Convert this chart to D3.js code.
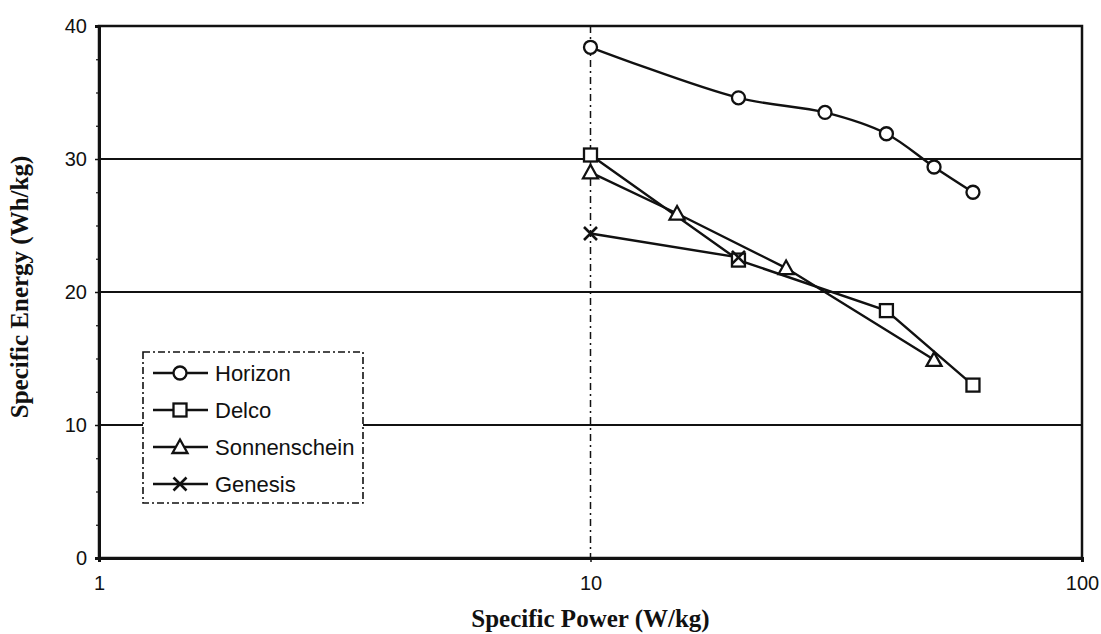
<!DOCTYPE html>
<html>
<head>
<meta charset="utf-8">
<script src="https://cdn.jsdelivr.net/npm/d3@7"></script>
<style>
  html, body { margin: 0; padding: 0; background: #fff; }
  svg { display: block; }
</style>
</head>
<body>
<svg id="chart" width="1101" height="634"></svg>
<script>
// ---- data ----
const seriesNames = ["Horizon", "Delco", "Sonnenschein", "Genesis"];
const horizonPower = [10, 20, 30, 40, 50, 60];
const horizonEnergy = [38.4, 34.6, 33.5, 31.9, 29.4, 27.5];
const delcoPower = [10, 20, 40, 60];
const delcoEnergy = [30.3, 22.4, 18.6, 13.0];
const sonnPower = [10, 15, 25, 50];
const sonnEnergy = [29.0, 25.9, 21.8, 14.9];
const genesisPower = [10, 20];
const genesisEnergy = [24.4, 22.6];
const yTicks = [0, 10, 20, 30, 40];
const yMinorTicks = [2.5, 5, 7.5, 12.5, 15, 17.5, 22.5, 25, 27.5, 32.5, 35, 37.5];
const xTicks = [1, 10, 100];
const xTitle = "Specific Power (W/kg)";
const yTitle = "Specific Energy (Wh/kg)";

(function () {
const series = [
  { name: seriesNames[0], xs: horizonPower, ys: horizonEnergy, marker: "circle", smooth: true },
  { name: seriesNames[1], xs: delcoPower, ys: delcoEnergy, marker: "square", smooth: false },
  { name: seriesNames[2], xs: sonnPower, ys: sonnEnergy, marker: "triangle", smooth: false },
  { name: seriesNames[3], xs: genesisPower, ys: genesisEnergy, marker: "cross", smooth: false }
];

// ---- layout ----
const pL = 99, pR = 1082, pT = 26, pB = 558;
const svg = d3.select("#chart");
const x = d3.scaleLog().domain([1, 100]).range([pL, pR]);
const y = d3.scaleLinear().domain([0, 40]).range([pB, pT]);

const ink = "#111";

// horizontal gridlines
svg.append("g").selectAll("line").data(yTicks.filter(d => d > 0 && d < 40)).join("line")
  .attr("x1", pL).attr("x2", pR)
  .attr("y1", d => y(d)).attr("y2", d => y(d))
  .attr("stroke", ink).attr("stroke-width", 2);

// vertical gridlines (dash-dot)
svg.append("g").selectAll("line").data(xTicks.filter(d => d > 1 && d < 100)).join("line")
  .attr("x1", d => x(d)).attr("x2", d => x(d))
  .attr("y1", pT).attr("y2", pB)
  .attr("stroke", ink).attr("stroke-width", 1.5)
  .attr("stroke-dasharray", "7,4,2,4");

// frame
svg.append("rect").attr("x", pL).attr("y", pT)
  .attr("width", pR - pL).attr("height", pB - pT)
  .attr("fill", "none").attr("stroke", ink).attr("stroke-width", 2.5);

// minor y ticks
const gym = svg.append("g").attr("transform", `translate(${pL},0)`)
  .call(d3.axisLeft(y).tickValues(yMinorTicks).tickSize(3).tickFormat(""));
gym.select(".domain").remove();
gym.selectAll(".tick line").attr("stroke", ink).attr("stroke-width", 1.2);

// axes
const yAxis = d3.axisLeft(y).tickValues(yTicks).tickSize(4).tickPadding(8).tickFormat(d3.format("d"));
const gy = svg.append("g").attr("transform", `translate(${pL},0)`).call(yAxis);
const xAxis = d3.axisBottom(x).tickValues(xTicks).tickSize(4).tickPadding(14).tickFormat(d3.format("d"));
const gx = svg.append("g").attr("transform", `translate(0,${pB})`).call(xAxis);
[gx, gy].forEach(g => {
  g.select(".domain").attr("stroke", ink).attr("stroke-width", 3);
  g.selectAll(".tick line").attr("stroke", ink).attr("stroke-width", 1.5);
  g.selectAll(".tick text").attr("fill", ink)
    .style("font-family", "Arial, 'Liberation Sans', sans-serif")
    .style("font-size", "20px");
});

// axis titles
svg.append("text").attr("x", (pL + pR) / 2).attr("y", 627)
  .attr("text-anchor", "middle")
  .style("font-family", "'Times New Roman', 'Liberation Serif', serif")
  .style("font-weight", "bold").style("font-size", "25px").attr("fill", ink)
  .text(xTitle);
svg.append("text")
  .attr("transform", `translate(28,287) rotate(-90)`)
  .attr("text-anchor", "middle")
  .style("font-family", "'Times New Roman', 'Liberation Serif', serif")
  .style("font-weight", "bold").style("font-size", "25px").attr("fill", ink)
  .text(yTitle);

// markers
function drawMarker(g, type, cx, cy) {
  const sw = 2.3;
  if (type === "circle") {
    g.append("circle").attr("cx", cx).attr("cy", cy).attr("r", 6.5)
      .attr("fill", "#fff").attr("stroke", ink).attr("stroke-width", sw);
  } else if (type === "square") {
    g.append("rect").attr("x", cx - 6.5).attr("y", cy - 6.5).attr("width", 13).attr("height", 13)
      .attr("fill", "#fff").attr("stroke", ink).attr("stroke-width", sw);
  } else if (type === "triangle") {
    const s = 7.5;
    g.append("path").attr("d", `M${cx},${cy - s}L${cx + s},${cy + s * 0.8}L${cx - s},${cy + s * 0.8}Z`)
      .attr("fill", "#fff").attr("stroke", ink).attr("stroke-width", sw);
  } else if (type === "cross") {
    const s = 6.5;
    g.append("path").attr("d", `M${cx - s},${cy - s}L${cx + s},${cy + s}M${cx - s},${cy + s}L${cx + s},${cy - s}`)
      .attr("fill", "none").attr("stroke", ink).attr("stroke-width", 2.6);
  }
}

// series lines + markers
series.forEach(s => {
  const pts = s.xs.map((v, i) => [v, s.ys[i]]);
  const line = d3.line().x(d => x(d[0])).y(d => y(d[1]))
    .curve(s.smooth ? d3.curveCatmullRom.alpha(0.5) : d3.curveLinear);
  svg.append("path").datum(pts).attr("d", line)
    .attr("fill", "none").attr("stroke", ink).attr("stroke-width", 2.4);
});
series.forEach(s => {
  const g = svg.append("g");
  s.xs.forEach((v, i) => drawMarker(g, s.marker, x(v), y(s.ys[i])));
});

// legend
const lg = svg.append("g");
const lx = 143, ly = 352, lw = 220, lh = 151;
lg.append("rect").attr("x", lx).attr("y", ly).attr("width", lw).attr("height", lh)
  .attr("fill", "#fff").attr("stroke", ink).attr("stroke-width", 1.6)
  .attr("stroke-dasharray", "7,3,2,3");
series.forEach((s, i) => {
  const cy = ly + 21 + i * 37;
  lg.append("line").attr("x1", lx + 10).attr("x2", lx + 65).attr("y1", cy).attr("y2", cy)
    .attr("stroke", ink).attr("stroke-width", 2.4);
  drawMarker(lg, s.marker, lx + 37, cy);
  lg.append("text").attr("x", lx + 72).attr("y", cy).attr("dy", "0.35em")
    .style("font-family", "Arial, 'Liberation Sans', sans-serif")
    .style("font-size", "22px").attr("fill", ink)
    .text(s.name);
});
})();
</script>
</body>
</html>
